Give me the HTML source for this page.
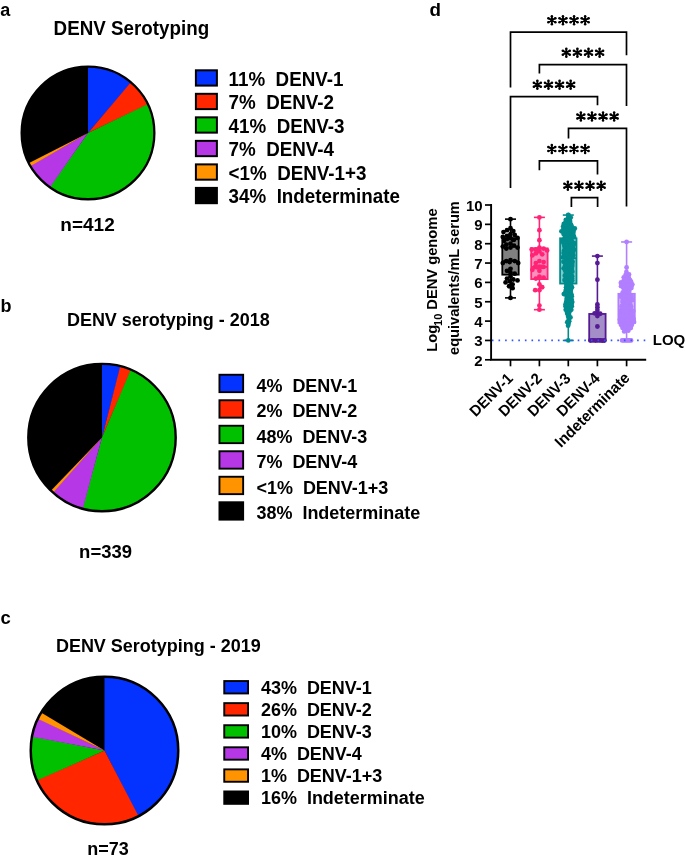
<!DOCTYPE html>
<html><head><meta charset="utf-8"><style>
html,body{margin:0;padding:0;background:#fff;width:685px;height:864px;overflow:hidden}
svg{display:block;will-change:transform}
</style></head><body>
<svg width="685" height="864" viewBox="0 0 685 864" font-family='"Liberation Sans", sans-serif'><rect width="685" height="864" fill="#fff"/><text transform="translate(0.20,16.00) scale(1,1.05)" font-size="18" font-weight="bold" text-anchor="start" fill="#000" xml:space="preserve">a</text><text transform="translate(53.60,34.70) scale(1,1.07)" font-size="18.8" font-weight="bold" text-anchor="start" fill="#000" xml:space="preserve">DENV Serotyping</text><circle cx="88" cy="132.9" r="66.65" fill="#000000"/><path d="M88,132.9 L88.00,66.25 A66.64999999999999,66.64999999999999 0 0 1 131.44,82.36 Z" fill="#0433FF"/><path d="M88,132.9 L131.04,82.01 A66.64999999999999,66.64999999999999 0 0 1 148.31,104.52 Z" fill="#FF2600"/><path d="M88,132.9 L148.08,104.04 A66.64999999999999,66.64999999999999 0 0 1 49.50,187.31 Z" fill="#00C000"/><path d="M88,132.9 L49.94,187.62 A66.64999999999999,66.64999999999999 0 0 1 30.00,165.74 Z" fill="#B537E6"/><path d="M88,132.9 L30.27,166.20 A66.64999999999999,66.64999999999999 0 0 1 28.61,163.16 Z" fill="#FF9300"/><circle cx="88" cy="132.9" r="66.35" fill="none" stroke="#000" stroke-width="2.3"/><rect x="195.90" y="70.30" width="21.00" height="15.30" fill="#0433FF" stroke="#000" stroke-width="2.0"/><text transform="translate(228.60,85.90) scale(1,1.05)" font-size="18.8" font-weight="bold" text-anchor="start" fill="#000" xml:space="preserve">11%  DENV-1</text><rect x="195.90" y="93.82" width="21.00" height="15.30" fill="#FF2600" stroke="#000" stroke-width="2.0"/><text transform="translate(228.60,109.30) scale(1,1.05)" font-size="18.8" font-weight="bold" text-anchor="start" fill="#000" xml:space="preserve">7%  DENV-2</text><rect x="195.90" y="117.34" width="21.00" height="15.30" fill="#00C000" stroke="#000" stroke-width="2.0"/><text transform="translate(228.60,132.70) scale(1,1.05)" font-size="18.8" font-weight="bold" text-anchor="start" fill="#000" xml:space="preserve">41%  DENV-3</text><rect x="195.90" y="140.86" width="21.00" height="15.30" fill="#B537E6" stroke="#000" stroke-width="2.0"/><text transform="translate(228.60,156.10) scale(1,1.05)" font-size="18.8" font-weight="bold" text-anchor="start" fill="#000" xml:space="preserve">7%  DENV-4</text><rect x="195.90" y="164.38" width="21.00" height="15.30" fill="#FF9300" stroke="#000" stroke-width="2.0"/><text transform="translate(228.60,179.50) scale(1,1.05)" font-size="18.8" font-weight="bold" text-anchor="start" fill="#000" xml:space="preserve">&lt;1%  DENV-1+3</text><rect x="195.90" y="187.90" width="21.00" height="15.30" fill="#000000" stroke="#000" stroke-width="2.0"/><text transform="translate(228.60,202.90) scale(1,1.05)" font-size="18.8" font-weight="bold" text-anchor="start" fill="#000" xml:space="preserve">34%  Indeterminate</text><text transform="translate(60.30,231.40)" font-size="19" font-weight="bold" text-anchor="start" fill="#000" xml:space="preserve">n=412</text><text transform="translate(0.40,311.60)" font-size="18" font-weight="bold" text-anchor="start" fill="#000" xml:space="preserve">b</text><text transform="translate(66.90,325.90) scale(1,1.06)" font-size="18" font-weight="bold" text-anchor="start" fill="#000" xml:space="preserve">DENV serotyping - 2018</text><circle cx="102" cy="437.6" r="74.00" fill="#000000"/><path d="M102,437.6 L102.00,363.60 A74.0,74.0 0 0 1 120.85,366.04 Z" fill="#0433FF"/><path d="M102,437.6 L120.28,365.89 A74.0,74.0 0 0 1 131.39,369.69 Z" fill="#FF2600"/><path d="M102,437.6 L130.84,369.45 A74.0,74.0 0 0 1 82.25,508.92 Z" fill="#00C000"/><path d="M102,437.6 L82.82,509.07 A74.0,74.0 0 0 1 52.37,492.49 Z" fill="#B537E6"/><path d="M102,437.6 L52.81,492.88 A74.0,74.0 0 0 1 50.67,490.90 Z" fill="#FF9300"/><circle cx="102" cy="437.6" r="73.70" fill="none" stroke="#000" stroke-width="2.4"/><rect x="219.45" y="374.75" width="23.70" height="17.40" fill="#0433FF" stroke="#000" stroke-width="1.9"/><text transform="translate(256.40,391.70) scale(1,1.05)" font-size="18.0" font-weight="bold" text-anchor="start" fill="#000" xml:space="preserve">4%  DENV-1</text><rect x="219.45" y="400.25" width="23.70" height="17.40" fill="#FF2600" stroke="#000" stroke-width="1.9"/><text transform="translate(256.40,417.22) scale(1,1.05)" font-size="18.0" font-weight="bold" text-anchor="start" fill="#000" xml:space="preserve">2%  DENV-2</text><rect x="219.45" y="425.75" width="23.70" height="17.40" fill="#00C000" stroke="#000" stroke-width="1.9"/><text transform="translate(256.40,442.74) scale(1,1.05)" font-size="18.0" font-weight="bold" text-anchor="start" fill="#000" xml:space="preserve">48%  DENV-3</text><rect x="219.45" y="451.25" width="23.70" height="17.40" fill="#B537E6" stroke="#000" stroke-width="1.9"/><text transform="translate(256.40,468.26) scale(1,1.05)" font-size="18.0" font-weight="bold" text-anchor="start" fill="#000" xml:space="preserve">7%  DENV-4</text><rect x="219.45" y="476.75" width="23.70" height="17.40" fill="#FF9300" stroke="#000" stroke-width="1.9"/><text transform="translate(256.40,493.78) scale(1,1.05)" font-size="18.0" font-weight="bold" text-anchor="start" fill="#000" xml:space="preserve">&lt;1%  DENV-1+3</text><rect x="219.45" y="502.25" width="23.70" height="17.40" fill="#000000" stroke="#000" stroke-width="1.9"/><text transform="translate(256.40,519.30) scale(1,1.05)" font-size="18.0" font-weight="bold" text-anchor="start" fill="#000" xml:space="preserve">38%  Indeterminate</text><text transform="translate(79.10,557.70) scale(1,1.01)" font-size="18.5" font-weight="bold" text-anchor="start" fill="#000" xml:space="preserve">n=339</text><text transform="translate(0.50,624.00) scale(1,1.04)" font-size="18.5" font-weight="bold" text-anchor="start" fill="#000" xml:space="preserve">c</text><text transform="translate(55.90,652.20) scale(1,1.06)" font-size="18" font-weight="bold" text-anchor="start" fill="#000" xml:space="preserve">DENV Serotyping - 2019</text><circle cx="104.5" cy="750.6" r="74.05" fill="#000000"/><path d="M104.5,750.6 L104.50,676.55 A74.05,74.05 0 0 1 138.12,816.58 Z" fill="#0433FF"/><path d="M104.5,750.6 L138.64,816.31 A74.05,74.05 0 0 1 36.54,780.01 Z" fill="#FF2600"/><path d="M104.5,750.6 L36.78,780.55 A74.05,74.05 0 0 1 31.85,736.27 Z" fill="#00C000"/><path d="M104.5,750.6 L31.74,736.85 A74.05,74.05 0 0 1 37.90,718.23 Z" fill="#B537E6"/><path d="M104.5,750.6 L37.64,718.77 A74.05,74.05 0 0 1 41.00,712.51 Z" fill="#FF9300"/><circle cx="104.5" cy="750.6" r="73.75" fill="none" stroke="#000" stroke-width="2.5"/><rect x="224.25" y="681.05" width="23.80" height="12.40" fill="#0433FF" stroke="#000" stroke-width="1.9"/><text transform="translate(260.90,693.50) scale(1,1.05)" font-size="18.0" font-weight="bold" text-anchor="start" fill="#000" xml:space="preserve">43%  DENV-1</text><rect x="224.25" y="703.13" width="23.80" height="12.40" fill="#FF2600" stroke="#000" stroke-width="1.9"/><text transform="translate(260.90,715.56) scale(1,1.05)" font-size="18.0" font-weight="bold" text-anchor="start" fill="#000" xml:space="preserve">26%  DENV-2</text><rect x="224.25" y="725.21" width="23.80" height="12.40" fill="#00C000" stroke="#000" stroke-width="1.9"/><text transform="translate(260.90,737.62) scale(1,1.05)" font-size="18.0" font-weight="bold" text-anchor="start" fill="#000" xml:space="preserve">10%  DENV-3</text><rect x="224.25" y="747.29" width="23.80" height="12.40" fill="#B537E6" stroke="#000" stroke-width="1.9"/><text transform="translate(260.90,759.68) scale(1,1.05)" font-size="18.0" font-weight="bold" text-anchor="start" fill="#000" xml:space="preserve">4%  DENV-4</text><rect x="224.25" y="769.37" width="23.80" height="12.40" fill="#FF9300" stroke="#000" stroke-width="1.9"/><text transform="translate(260.90,781.74) scale(1,1.05)" font-size="18.0" font-weight="bold" text-anchor="start" fill="#000" xml:space="preserve">1%  DENV-1+3</text><rect x="224.25" y="791.45" width="23.80" height="12.40" fill="#000000" stroke="#000" stroke-width="1.9"/><text transform="translate(260.90,803.80) scale(1,1.05)" font-size="18.0" font-weight="bold" text-anchor="start" fill="#000" xml:space="preserve">16%  Indeterminate</text><text transform="translate(87.20,855.00) scale(1,1.02)" font-size="18" font-weight="bold" text-anchor="start" fill="#000" xml:space="preserve">n=73</text><text transform="translate(429.50,15.90) scale(1,0.98)" font-size="18.8" font-weight="bold" text-anchor="start" fill="#000" xml:space="preserve">d</text><path d="M510.5,87.5 V32.1 H626.5 V55.2" fill="none" stroke="#000" stroke-width="1.7"/><path d="M539.4,73.6 V64.6 H626.5 V106.0" fill="none" stroke="#000" stroke-width="1.7"/><path d="M510.5,188.1 V96.7 H597.5 V105.3" fill="none" stroke="#000" stroke-width="1.7"/><path d="M568.5,138.4 V128.4 H626.5 V206.6" fill="none" stroke="#000" stroke-width="1.7"/><path d="M539.4,170.3 V160.9 H597.5 V174.5" fill="none" stroke="#000" stroke-width="1.7"/><path d="M571.4,207.0 V197.6 H597.6 V207.0" fill="none" stroke="#000" stroke-width="1.7"/><path d="M551.85,24.40L551.85,16.00M548.21,22.30L555.49,18.10M548.21,18.10L555.49,22.30M562.95,24.40L562.95,16.00M559.31,22.30L566.59,18.10M559.31,18.10L566.59,22.30M574.05,24.40L574.05,16.00M570.41,22.30L577.69,18.10M570.41,18.10L577.69,22.30M585.15,24.40L585.15,16.00M581.51,22.30L588.79,18.10M581.51,18.10L588.79,22.30M566.30,56.90L566.30,48.50M562.66,54.80L569.94,50.60M562.66,50.60L569.94,54.80M577.40,56.90L577.40,48.50M573.76,54.80L581.04,50.60M573.76,50.60L581.04,54.80M588.50,56.90L588.50,48.50M584.86,54.80L592.14,50.60M584.86,50.60L592.14,54.80M599.60,56.90L599.60,48.50M595.96,54.80L603.24,50.60M595.96,50.60L603.24,54.80M537.35,89.00L537.35,80.60M533.71,86.90L540.99,82.70M533.71,82.70L540.99,86.90M548.45,89.00L548.45,80.60M544.81,86.90L552.09,82.70M544.81,82.70L552.09,86.90M559.55,89.00L559.55,80.60M555.91,86.90L563.19,82.70M555.91,82.70L563.19,86.90M570.65,89.00L570.65,80.60M567.01,86.90L574.29,82.70M567.01,82.70L574.29,86.90M580.85,120.70L580.85,112.30M577.21,118.60L584.49,114.40M577.21,114.40L584.49,118.60M591.95,120.70L591.95,112.30M588.31,118.60L595.59,114.40M588.31,114.40L595.59,118.60M603.05,120.70L603.05,112.30M599.41,118.60L606.69,114.40M599.41,114.40L606.69,118.60M614.15,120.70L614.15,112.30M610.51,118.60L617.79,114.40M610.51,114.40L617.79,118.60M551.80,153.20L551.80,144.80M548.16,151.10L555.44,146.90M548.16,146.90L555.44,151.10M562.90,153.20L562.90,144.80M559.26,151.10L566.54,146.90M559.26,146.90L566.54,151.10M574.00,153.20L574.00,144.80M570.36,151.10L577.64,146.90M570.36,146.90L577.64,151.10M585.10,153.20L585.10,144.80M581.46,151.10L588.74,146.90M581.46,146.90L588.74,151.10M567.85,189.90L567.85,181.50M564.21,187.80L571.49,183.60M564.21,183.60L571.49,187.80M578.95,189.90L578.95,181.50M575.31,187.80L582.59,183.60M575.31,183.60L582.59,187.80M590.05,189.90L590.05,181.50M586.41,187.80L593.69,183.60M586.41,183.60L593.69,187.80M601.15,189.90L601.15,181.50M597.51,187.80L604.79,183.60M597.51,183.60L604.79,187.80" fill="none" stroke="#000" stroke-width="1.9" stroke-linecap="butt"/><g fill="#000"><circle cx="551.85" cy="16.15" r="1.25"/><circle cx="551.85" cy="24.25" r="1.25"/><circle cx="555.36" cy="18.18" r="1.25"/><circle cx="548.34" cy="22.23" r="1.25"/><circle cx="555.36" cy="22.23" r="1.25"/><circle cx="548.34" cy="18.18" r="1.25"/><circle cx="551.85" cy="20.20" r="1.5"/><circle cx="562.95" cy="16.15" r="1.25"/><circle cx="562.95" cy="24.25" r="1.25"/><circle cx="566.46" cy="18.18" r="1.25"/><circle cx="559.44" cy="22.23" r="1.25"/><circle cx="566.46" cy="22.23" r="1.25"/><circle cx="559.44" cy="18.18" r="1.25"/><circle cx="562.95" cy="20.20" r="1.5"/><circle cx="574.05" cy="16.15" r="1.25"/><circle cx="574.05" cy="24.25" r="1.25"/><circle cx="577.56" cy="18.18" r="1.25"/><circle cx="570.54" cy="22.23" r="1.25"/><circle cx="577.56" cy="22.23" r="1.25"/><circle cx="570.54" cy="18.18" r="1.25"/><circle cx="574.05" cy="20.20" r="1.5"/><circle cx="585.15" cy="16.15" r="1.25"/><circle cx="585.15" cy="24.25" r="1.25"/><circle cx="588.66" cy="18.18" r="1.25"/><circle cx="581.64" cy="22.23" r="1.25"/><circle cx="588.66" cy="22.23" r="1.25"/><circle cx="581.64" cy="18.18" r="1.25"/><circle cx="585.15" cy="20.20" r="1.5"/><circle cx="566.30" cy="48.65" r="1.25"/><circle cx="566.30" cy="56.75" r="1.25"/><circle cx="569.81" cy="50.67" r="1.25"/><circle cx="562.79" cy="54.72" r="1.25"/><circle cx="569.81" cy="54.72" r="1.25"/><circle cx="562.79" cy="50.67" r="1.25"/><circle cx="566.30" cy="52.70" r="1.5"/><circle cx="577.40" cy="48.65" r="1.25"/><circle cx="577.40" cy="56.75" r="1.25"/><circle cx="580.91" cy="50.67" r="1.25"/><circle cx="573.89" cy="54.72" r="1.25"/><circle cx="580.91" cy="54.72" r="1.25"/><circle cx="573.89" cy="50.67" r="1.25"/><circle cx="577.40" cy="52.70" r="1.5"/><circle cx="588.50" cy="48.65" r="1.25"/><circle cx="588.50" cy="56.75" r="1.25"/><circle cx="592.01" cy="50.67" r="1.25"/><circle cx="584.99" cy="54.72" r="1.25"/><circle cx="592.01" cy="54.72" r="1.25"/><circle cx="584.99" cy="50.67" r="1.25"/><circle cx="588.50" cy="52.70" r="1.5"/><circle cx="599.60" cy="48.65" r="1.25"/><circle cx="599.60" cy="56.75" r="1.25"/><circle cx="603.11" cy="50.67" r="1.25"/><circle cx="596.09" cy="54.72" r="1.25"/><circle cx="603.11" cy="54.72" r="1.25"/><circle cx="596.09" cy="50.67" r="1.25"/><circle cx="599.60" cy="52.70" r="1.5"/><circle cx="537.35" cy="80.75" r="1.25"/><circle cx="537.35" cy="88.85" r="1.25"/><circle cx="540.86" cy="82.77" r="1.25"/><circle cx="533.84" cy="86.83" r="1.25"/><circle cx="540.86" cy="86.83" r="1.25"/><circle cx="533.84" cy="82.77" r="1.25"/><circle cx="537.35" cy="84.80" r="1.5"/><circle cx="548.45" cy="80.75" r="1.25"/><circle cx="548.45" cy="88.85" r="1.25"/><circle cx="551.96" cy="82.77" r="1.25"/><circle cx="544.94" cy="86.83" r="1.25"/><circle cx="551.96" cy="86.83" r="1.25"/><circle cx="544.94" cy="82.77" r="1.25"/><circle cx="548.45" cy="84.80" r="1.5"/><circle cx="559.55" cy="80.75" r="1.25"/><circle cx="559.55" cy="88.85" r="1.25"/><circle cx="563.06" cy="82.77" r="1.25"/><circle cx="556.04" cy="86.83" r="1.25"/><circle cx="563.06" cy="86.83" r="1.25"/><circle cx="556.04" cy="82.77" r="1.25"/><circle cx="559.55" cy="84.80" r="1.5"/><circle cx="570.65" cy="80.75" r="1.25"/><circle cx="570.65" cy="88.85" r="1.25"/><circle cx="574.16" cy="82.77" r="1.25"/><circle cx="567.14" cy="86.83" r="1.25"/><circle cx="574.16" cy="86.83" r="1.25"/><circle cx="567.14" cy="82.77" r="1.25"/><circle cx="570.65" cy="84.80" r="1.5"/><circle cx="580.85" cy="112.45" r="1.25"/><circle cx="580.85" cy="120.55" r="1.25"/><circle cx="584.36" cy="114.47" r="1.25"/><circle cx="577.34" cy="118.53" r="1.25"/><circle cx="584.36" cy="118.53" r="1.25"/><circle cx="577.34" cy="114.47" r="1.25"/><circle cx="580.85" cy="116.50" r="1.5"/><circle cx="591.95" cy="112.45" r="1.25"/><circle cx="591.95" cy="120.55" r="1.25"/><circle cx="595.46" cy="114.47" r="1.25"/><circle cx="588.44" cy="118.53" r="1.25"/><circle cx="595.46" cy="118.53" r="1.25"/><circle cx="588.44" cy="114.47" r="1.25"/><circle cx="591.95" cy="116.50" r="1.5"/><circle cx="603.05" cy="112.45" r="1.25"/><circle cx="603.05" cy="120.55" r="1.25"/><circle cx="606.56" cy="114.47" r="1.25"/><circle cx="599.54" cy="118.53" r="1.25"/><circle cx="606.56" cy="118.53" r="1.25"/><circle cx="599.54" cy="114.47" r="1.25"/><circle cx="603.05" cy="116.50" r="1.5"/><circle cx="614.15" cy="112.45" r="1.25"/><circle cx="614.15" cy="120.55" r="1.25"/><circle cx="617.66" cy="114.47" r="1.25"/><circle cx="610.64" cy="118.53" r="1.25"/><circle cx="617.66" cy="118.53" r="1.25"/><circle cx="610.64" cy="114.47" r="1.25"/><circle cx="614.15" cy="116.50" r="1.5"/><circle cx="551.80" cy="144.95" r="1.25"/><circle cx="551.80" cy="153.05" r="1.25"/><circle cx="555.31" cy="146.97" r="1.25"/><circle cx="548.29" cy="151.03" r="1.25"/><circle cx="555.31" cy="151.03" r="1.25"/><circle cx="548.29" cy="146.97" r="1.25"/><circle cx="551.80" cy="149.00" r="1.5"/><circle cx="562.90" cy="144.95" r="1.25"/><circle cx="562.90" cy="153.05" r="1.25"/><circle cx="566.41" cy="146.97" r="1.25"/><circle cx="559.39" cy="151.03" r="1.25"/><circle cx="566.41" cy="151.03" r="1.25"/><circle cx="559.39" cy="146.97" r="1.25"/><circle cx="562.90" cy="149.00" r="1.5"/><circle cx="574.00" cy="144.95" r="1.25"/><circle cx="574.00" cy="153.05" r="1.25"/><circle cx="577.51" cy="146.97" r="1.25"/><circle cx="570.49" cy="151.03" r="1.25"/><circle cx="577.51" cy="151.03" r="1.25"/><circle cx="570.49" cy="146.97" r="1.25"/><circle cx="574.00" cy="149.00" r="1.5"/><circle cx="585.10" cy="144.95" r="1.25"/><circle cx="585.10" cy="153.05" r="1.25"/><circle cx="588.61" cy="146.97" r="1.25"/><circle cx="581.59" cy="151.03" r="1.25"/><circle cx="588.61" cy="151.03" r="1.25"/><circle cx="581.59" cy="146.97" r="1.25"/><circle cx="585.10" cy="149.00" r="1.5"/><circle cx="567.85" cy="181.65" r="1.25"/><circle cx="567.85" cy="189.75" r="1.25"/><circle cx="571.36" cy="183.67" r="1.25"/><circle cx="564.34" cy="187.72" r="1.25"/><circle cx="571.36" cy="187.72" r="1.25"/><circle cx="564.34" cy="183.67" r="1.25"/><circle cx="567.85" cy="185.70" r="1.5"/><circle cx="578.95" cy="181.65" r="1.25"/><circle cx="578.95" cy="189.75" r="1.25"/><circle cx="582.46" cy="183.67" r="1.25"/><circle cx="575.44" cy="187.72" r="1.25"/><circle cx="582.46" cy="187.72" r="1.25"/><circle cx="575.44" cy="183.67" r="1.25"/><circle cx="578.95" cy="185.70" r="1.5"/><circle cx="590.05" cy="181.65" r="1.25"/><circle cx="590.05" cy="189.75" r="1.25"/><circle cx="593.56" cy="183.67" r="1.25"/><circle cx="586.54" cy="187.72" r="1.25"/><circle cx="593.56" cy="187.72" r="1.25"/><circle cx="586.54" cy="183.67" r="1.25"/><circle cx="590.05" cy="185.70" r="1.5"/><circle cx="601.15" cy="181.65" r="1.25"/><circle cx="601.15" cy="189.75" r="1.25"/><circle cx="604.66" cy="183.67" r="1.25"/><circle cx="597.64" cy="187.72" r="1.25"/><circle cx="604.66" cy="187.72" r="1.25"/><circle cx="597.64" cy="183.67" r="1.25"/><circle cx="601.15" cy="185.70" r="1.5"/></g><line x1="510.5" y1="219.13" x2="510.5" y2="297.88" stroke="#000000" stroke-width="1.6"/><line x1="505.0" y1="297.88" x2="516.0" y2="297.88" stroke="#000000" stroke-width="1.6"/><line x1="505.0" y1="219.13" x2="516.0" y2="219.13" stroke="#000000" stroke-width="1.6"/><rect x="502.30" y="238.28" width="16.40" height="36.38" fill="#808080" stroke="#000000" stroke-width="1.8"/><line x1="502.30" y1="261.12" x2="518.70" y2="261.12" stroke="#000000" stroke-width="1.8"/><g fill="#000000"><circle cx="510.50" cy="219.13" r="2.4"/><circle cx="510.50" cy="228.22" r="2.4"/><circle cx="507.00" cy="230.16" r="2.4"/><circle cx="513.30" cy="231.12" r="2.4"/><circle cx="503.50" cy="232.09" r="2.4"/><circle cx="510.50" cy="234.03" r="2.4"/><circle cx="514.70" cy="234.99" r="2.4"/><circle cx="507.00" cy="235.96" r="2.4"/><circle cx="502.80" cy="236.93" r="2.4"/><circle cx="510.50" cy="237.89" r="2.4"/><circle cx="517.50" cy="237.89" r="2.4"/><circle cx="507.48" cy="238.86" r="2.4"/><circle cx="514.00" cy="239.83" r="2.4"/><circle cx="512.80" cy="239.83" r="2.4"/><circle cx="504.20" cy="240.80" r="2.4"/><circle cx="510.50" cy="243.70" r="2.4"/><circle cx="506.30" cy="244.67" r="2.4"/><circle cx="514.00" cy="245.63" r="2.4"/><circle cx="502.80" cy="246.60" r="2.4"/><circle cx="510.50" cy="247.57" r="2.4"/><circle cx="517.50" cy="247.57" r="2.4"/><circle cx="506.30" cy="248.54" r="2.4"/><circle cx="510.50" cy="260.15" r="2.4"/><circle cx="514.70" cy="261.12" r="2.4"/><circle cx="506.30" cy="261.12" r="2.4"/><circle cx="509.63" cy="262.08" r="2.4"/><circle cx="518.20" cy="263.05" r="2.4"/><circle cx="502.80" cy="263.05" r="2.4"/><circle cx="510.50" cy="268.86" r="2.4"/><circle cx="507.00" cy="270.79" r="2.4"/><circle cx="510.50" cy="272.73" r="2.4"/><circle cx="514.70" cy="273.69" r="2.4"/><circle cx="510.50" cy="276.60" r="2.4"/><circle cx="507.00" cy="278.53" r="2.4"/><circle cx="513.30" cy="279.50" r="2.4"/><circle cx="517.50" cy="280.47" r="2.4"/><circle cx="509.80" cy="281.43" r="2.4"/><circle cx="505.60" cy="282.40" r="2.4"/><circle cx="512.60" cy="284.33" r="2.4"/><circle cx="509.10" cy="286.27" r="2.4"/><circle cx="512.60" cy="288.20" r="2.4"/><circle cx="510.50" cy="297.88" r="2.4"/></g><line x1="539.4" y1="217.38" x2="539.4" y2="309.68" stroke="#FF2475" stroke-width="1.6"/><line x1="533.9" y1="309.68" x2="544.9" y2="309.68" stroke="#FF2475" stroke-width="1.6"/><line x1="533.9" y1="217.38" x2="544.9" y2="217.38" stroke="#FF2475" stroke-width="1.6"/><rect x="531.20" y="248.34" width="16.40" height="30.77" fill="#FF8FBC" stroke="#FF2475" stroke-width="1.8"/><line x1="531.20" y1="266.92" x2="547.60" y2="266.92" stroke="#FF2475" stroke-width="1.8"/><g fill="#FF2475"><circle cx="539.40" cy="217.38" r="2.4"/><circle cx="539.40" cy="230.16" r="2.4"/><circle cx="539.40" cy="240.22" r="2.4"/><circle cx="539.40" cy="247.57" r="2.4"/><circle cx="543.60" cy="248.54" r="2.4"/><circle cx="535.90" cy="249.50" r="2.4"/><circle cx="531.70" cy="249.50" r="2.4"/><circle cx="547.10" cy="250.47" r="2.4"/><circle cx="539.40" cy="251.44" r="2.4"/><circle cx="535.90" cy="253.38" r="2.4"/><circle cx="542.20" cy="254.34" r="2.4"/><circle cx="532.40" cy="255.31" r="2.4"/><circle cx="539.40" cy="261.12" r="2.4"/><circle cx="543.60" cy="262.08" r="2.4"/><circle cx="535.90" cy="263.05" r="2.4"/><circle cx="539.40" cy="266.53" r="2.4"/><circle cx="535.20" cy="266.92" r="2.4"/><circle cx="543.60" cy="266.92" r="2.4"/><circle cx="541.82" cy="266.92" r="2.4"/><circle cx="536.98" cy="267.31" r="2.4"/><circle cx="532.40" cy="269.82" r="2.4"/><circle cx="539.40" cy="270.79" r="2.4"/><circle cx="539.40" cy="276.60" r="2.4"/><circle cx="543.60" cy="277.56" r="2.4"/><circle cx="535.90" cy="278.53" r="2.4"/><circle cx="539.40" cy="284.33" r="2.4"/><circle cx="542.20" cy="287.24" r="2.4"/><circle cx="539.40" cy="290.14" r="2.4"/><circle cx="535.20" cy="290.14" r="2.4"/><circle cx="539.40" cy="305.62" r="2.4"/><circle cx="539.40" cy="309.68" r="2.4"/></g><line x1="568.3" y1="215.06" x2="568.3" y2="340.45" stroke="#008C8C" stroke-width="1.6"/><line x1="562.8" y1="340.45" x2="573.8" y2="340.45" stroke="#008C8C" stroke-width="1.6"/><line x1="562.8" y1="215.06" x2="573.8" y2="215.06" stroke="#008C8C" stroke-width="1.6"/><rect x="560.10" y="238.28" width="16.40" height="45.28" fill="#7FCACA" stroke="#008C8C" stroke-width="1.8"/><line x1="560.10" y1="258.21" x2="576.50" y2="258.21" stroke="#008C8C" stroke-width="1.8"/><g fill="#008C8C"><circle cx="568.34" cy="215.00" r="2.4"/><circle cx="568.32" cy="217.38" r="2.4"/><circle cx="570.74" cy="217.58" r="2.4"/><circle cx="565.85" cy="219.79" r="2.4"/><circle cx="569.84" cy="220.40" r="2.4"/><circle cx="565.43" cy="222.45" r="2.4"/><circle cx="568.37" cy="222.04" r="2.4"/><circle cx="570.04" cy="221.70" r="2.4"/><circle cx="563.82" cy="224.01" r="2.4"/><circle cx="565.69" cy="224.26" r="2.4"/><circle cx="568.86" cy="224.37" r="2.4"/><circle cx="571.03" cy="224.73" r="2.4"/><circle cx="563.21" cy="226.31" r="2.4"/><circle cx="565.75" cy="226.64" r="2.4"/><circle cx="568.95" cy="226.46" r="2.4"/><circle cx="571.84" cy="226.64" r="2.4"/><circle cx="563.50" cy="228.71" r="2.4"/><circle cx="566.49" cy="228.81" r="2.4"/><circle cx="569.24" cy="228.36" r="2.4"/><circle cx="571.84" cy="229.05" r="2.4"/><circle cx="574.78" cy="228.46" r="2.4"/><circle cx="561.43" cy="231.37" r="2.4"/><circle cx="563.04" cy="230.59" r="2.4"/><circle cx="566.40" cy="230.61" r="2.4"/><circle cx="568.29" cy="231.30" r="2.4"/><circle cx="571.33" cy="231.25" r="2.4"/><circle cx="573.62" cy="230.78" r="2.4"/><circle cx="563.58" cy="233.97" r="2.4"/><circle cx="566.50" cy="233.02" r="2.4"/><circle cx="568.53" cy="233.79" r="2.4"/><circle cx="571.10" cy="233.70" r="2.4"/><circle cx="573.30" cy="232.96" r="2.4"/><circle cx="564.85" cy="235.58" r="2.4"/><circle cx="567.13" cy="235.12" r="2.4"/><circle cx="569.92" cy="235.91" r="2.4"/><circle cx="573.59" cy="236.01" r="2.4"/><circle cx="564.73" cy="237.83" r="2.4"/><circle cx="567.63" cy="237.47" r="2.4"/><circle cx="570.92" cy="237.43" r="2.4"/><circle cx="574.08" cy="236.93" r="2.4"/><circle cx="562.72" cy="240.39" r="2.4"/><circle cx="565.81" cy="239.74" r="2.4"/><circle cx="568.68" cy="240.12" r="2.4"/><circle cx="571.65" cy="240.58" r="2.4"/><circle cx="563.26" cy="242.68" r="2.4"/><circle cx="565.92" cy="242.80" r="2.4"/><circle cx="569.07" cy="243.16" r="2.4"/><circle cx="570.89" cy="243.29" r="2.4"/><circle cx="574.16" cy="243.13" r="2.4"/><circle cx="564.28" cy="245.73" r="2.4"/><circle cx="567.52" cy="245.81" r="2.4"/><circle cx="570.46" cy="245.76" r="2.4"/><circle cx="573.44" cy="245.31" r="2.4"/><circle cx="564.94" cy="248.02" r="2.4"/><circle cx="567.08" cy="248.40" r="2.4"/><circle cx="570.23" cy="247.67" r="2.4"/><circle cx="572.85" cy="247.95" r="2.4"/><circle cx="564.04" cy="250.54" r="2.4"/><circle cx="566.76" cy="250.87" r="2.4"/><circle cx="568.46" cy="250.44" r="2.4"/><circle cx="571.90" cy="250.01" r="2.4"/><circle cx="574.08" cy="249.76" r="2.4"/><circle cx="563.60" cy="252.89" r="2.4"/><circle cx="566.67" cy="252.42" r="2.4"/><circle cx="569.88" cy="252.49" r="2.4"/><circle cx="572.63" cy="252.57" r="2.4"/><circle cx="564.93" cy="254.56" r="2.4"/><circle cx="568.01" cy="254.69" r="2.4"/><circle cx="570.33" cy="254.71" r="2.4"/><circle cx="573.23" cy="255.24" r="2.4"/><circle cx="563.10" cy="257.20" r="2.4"/><circle cx="565.98" cy="256.82" r="2.4"/><circle cx="569.39" cy="257.15" r="2.4"/><circle cx="572.01" cy="257.34" r="2.4"/><circle cx="565.72" cy="258.87" r="2.4"/><circle cx="568.88" cy="259.15" r="2.4"/><circle cx="571.37" cy="259.58" r="2.4"/><circle cx="563.42" cy="261.74" r="2.4"/><circle cx="566.72" cy="261.22" r="2.4"/><circle cx="570.25" cy="260.94" r="2.4"/><circle cx="572.59" cy="261.78" r="2.4"/><circle cx="565.56" cy="263.99" r="2.4"/><circle cx="567.21" cy="264.01" r="2.4"/><circle cx="570.10" cy="263.51" r="2.4"/><circle cx="572.11" cy="263.90" r="2.4"/><circle cx="565.18" cy="265.62" r="2.4"/><circle cx="568.67" cy="265.81" r="2.4"/><circle cx="572.24" cy="265.94" r="2.4"/><circle cx="563.70" cy="268.32" r="2.4"/><circle cx="567.17" cy="269.12" r="2.4"/><circle cx="569.53" cy="268.61" r="2.4"/><circle cx="571.79" cy="269.00" r="2.4"/><circle cx="565.18" cy="270.87" r="2.4"/><circle cx="568.05" cy="271.82" r="2.4"/><circle cx="572.32" cy="271.70" r="2.4"/><circle cx="566.06" cy="273.35" r="2.4"/><circle cx="568.08" cy="273.25" r="2.4"/><circle cx="570.44" cy="272.71" r="2.4"/><circle cx="564.83" cy="275.75" r="2.4"/><circle cx="568.05" cy="275.58" r="2.4"/><circle cx="572.11" cy="276.18" r="2.4"/><circle cx="566.16" cy="278.09" r="2.4"/><circle cx="568.78" cy="277.67" r="2.4"/><circle cx="571.95" cy="278.14" r="2.4"/><circle cx="564.52" cy="280.10" r="2.4"/><circle cx="567.67" cy="280.54" r="2.4"/><circle cx="569.94" cy="279.88" r="2.4"/><circle cx="572.19" cy="280.49" r="2.4"/><circle cx="566.08" cy="282.26" r="2.4"/><circle cx="568.64" cy="282.36" r="2.4"/><circle cx="571.15" cy="281.69" r="2.4"/><circle cx="566.37" cy="284.82" r="2.4"/><circle cx="568.31" cy="284.16" r="2.4"/><circle cx="570.86" cy="284.86" r="2.4"/><circle cx="566.10" cy="287.36" r="2.4"/><circle cx="569.54" cy="287.36" r="2.4"/><circle cx="571.93" cy="287.22" r="2.4"/><circle cx="566.06" cy="289.55" r="2.4"/><circle cx="568.10" cy="288.91" r="2.4"/><circle cx="571.10" cy="288.91" r="2.4"/><circle cx="565.51" cy="291.73" r="2.4"/><circle cx="568.12" cy="291.78" r="2.4"/><circle cx="570.77" cy="290.98" r="2.4"/><circle cx="563.81" cy="294.04" r="2.4"/><circle cx="567.63" cy="294.10" r="2.4"/><circle cx="571.33" cy="294.20" r="2.4"/><circle cx="566.83" cy="296.21" r="2.4"/><circle cx="568.38" cy="297.00" r="2.4"/><circle cx="571.76" cy="296.21" r="2.4"/><circle cx="566.60" cy="298.94" r="2.4"/><circle cx="568.69" cy="299.56" r="2.4"/><circle cx="571.65" cy="299.56" r="2.4"/><circle cx="566.32" cy="301.53" r="2.4"/><circle cx="569.10" cy="301.81" r="2.4"/><circle cx="572.25" cy="302.04" r="2.4"/><circle cx="565.56" cy="304.22" r="2.4"/><circle cx="568.51" cy="304.32" r="2.4"/><circle cx="571.63" cy="304.02" r="2.4"/><circle cx="565.52" cy="306.18" r="2.4"/><circle cx="567.99" cy="306.57" r="2.4"/><circle cx="571.79" cy="306.13" r="2.4"/><circle cx="566.76" cy="308.92" r="2.4"/><circle cx="569.59" cy="308.13" r="2.4"/><circle cx="565.73" cy="309.86" r="2.4"/><circle cx="568.40" cy="310.49" r="2.4"/><circle cx="571.29" cy="309.83" r="2.4"/><circle cx="567.08" cy="312.67" r="2.4"/><circle cx="569.39" cy="312.08" r="2.4"/><circle cx="567.70" cy="314.28" r="2.4"/><circle cx="569.00" cy="314.89" r="2.4"/><circle cx="568.20" cy="316.70" r="2.4"/><circle cx="570.46" cy="317.44" r="2.4"/><circle cx="568.71" cy="319.64" r="2.4"/><circle cx="567.29" cy="322.15" r="2.4"/><circle cx="569.20" cy="321.25" r="2.4"/><circle cx="568.53" cy="323.75" r="2.4"/><circle cx="568.09" cy="325.71" r="2.4"/><circle cx="568.30" cy="215.06" r="2.4"/><circle cx="568.30" cy="340.45" r="2.4"/></g><line x1="597.4" y1="256.08" x2="597.4" y2="340.45" stroke="#561A94" stroke-width="1.6"/><line x1="591.9" y1="340.45" x2="602.9" y2="340.45" stroke="#561A94" stroke-width="1.6"/><line x1="591.9" y1="256.08" x2="602.9" y2="256.08" stroke="#561A94" stroke-width="1.6"/><rect x="589.20" y="313.94" width="16.40" height="26.51" fill="#A48EC8" stroke="#561A94" stroke-width="1.8"/><g fill="#561A94"><circle cx="597.40" cy="256.08" r="2.4"/><circle cx="597.40" cy="263.05" r="2.4"/><circle cx="597.40" cy="279.69" r="2.4"/><circle cx="597.40" cy="304.46" r="2.4"/><circle cx="597.40" cy="307.17" r="2.4"/><circle cx="597.40" cy="310.07" r="2.4"/><circle cx="597.40" cy="312.97" r="2.4"/><circle cx="594.60" cy="313.36" r="2.4"/><circle cx="600.20" cy="313.75" r="2.4"/><circle cx="597.40" cy="316.07" r="2.4"/><circle cx="597.40" cy="326.52" r="2.4"/><circle cx="590.40" cy="340.58" r="2.4"/><circle cx="592.15" cy="340.28" r="2.4"/><circle cx="593.90" cy="340.36" r="2.4"/><circle cx="595.65" cy="340.54" r="2.4"/><circle cx="597.40" cy="340.29" r="2.4"/><circle cx="599.15" cy="340.44" r="2.4"/><circle cx="600.90" cy="340.44" r="2.4"/><circle cx="602.65" cy="340.63" r="2.4"/><circle cx="604.40" cy="340.48" r="2.4"/></g><line x1="626.6" y1="241.96" x2="626.6" y2="340.45" stroke="#B17FFF" stroke-width="1.6"/><line x1="621.1" y1="340.45" x2="632.1" y2="340.45" stroke="#B17FFF" stroke-width="1.6"/><line x1="621.1" y1="241.96" x2="632.1" y2="241.96" stroke="#B17FFF" stroke-width="1.6"/><rect x="618.40" y="293.82" width="16.40" height="29.22" fill="#D5BBFF" stroke="#B17FFF" stroke-width="1.8"/><g fill="#B17FFF"><circle cx="626.42" cy="271.90" r="2.4"/><circle cx="625.63" cy="274.85" r="2.4"/><circle cx="629.01" cy="274.39" r="2.4"/><circle cx="623.77" cy="277.29" r="2.4"/><circle cx="626.56" cy="277.78" r="2.4"/><circle cx="628.75" cy="277.74" r="2.4"/><circle cx="623.89" cy="279.94" r="2.4"/><circle cx="626.87" cy="278.96" r="2.4"/><circle cx="629.89" cy="279.79" r="2.4"/><circle cx="621.10" cy="282.28" r="2.4"/><circle cx="625.24" cy="281.34" r="2.4"/><circle cx="628.21" cy="281.44" r="2.4"/><circle cx="631.11" cy="281.74" r="2.4"/><circle cx="621.06" cy="283.60" r="2.4"/><circle cx="623.40" cy="284.17" r="2.4"/><circle cx="626.46" cy="284.43" r="2.4"/><circle cx="629.65" cy="284.16" r="2.4"/><circle cx="632.27" cy="284.29" r="2.4"/><circle cx="621.09" cy="286.15" r="2.4"/><circle cx="623.33" cy="285.79" r="2.4"/><circle cx="626.95" cy="286.01" r="2.4"/><circle cx="628.88" cy="285.58" r="2.4"/><circle cx="631.80" cy="285.45" r="2.4"/><circle cx="623.58" cy="288.23" r="2.4"/><circle cx="626.48" cy="288.53" r="2.4"/><circle cx="629.32" cy="288.08" r="2.4"/><circle cx="631.37" cy="288.11" r="2.4"/><circle cx="624.72" cy="290.50" r="2.4"/><circle cx="627.15" cy="290.28" r="2.4"/><circle cx="629.20" cy="289.95" r="2.4"/><circle cx="622.69" cy="292.41" r="2.4"/><circle cx="626.29" cy="292.79" r="2.4"/><circle cx="629.19" cy="291.99" r="2.4"/><circle cx="621.26" cy="295.05" r="2.4"/><circle cx="624.16" cy="295.31" r="2.4"/><circle cx="628.34" cy="295.07" r="2.4"/><circle cx="631.17" cy="295.46" r="2.4"/><circle cx="620.97" cy="296.66" r="2.4"/><circle cx="624.28" cy="297.25" r="2.4"/><circle cx="628.08" cy="296.96" r="2.4"/><circle cx="631.62" cy="297.00" r="2.4"/><circle cx="622.87" cy="300.01" r="2.4"/><circle cx="626.23" cy="299.60" r="2.4"/><circle cx="629.13" cy="299.24" r="2.4"/><circle cx="632.43" cy="300.12" r="2.4"/><circle cx="622.55" cy="301.98" r="2.4"/><circle cx="625.21" cy="301.92" r="2.4"/><circle cx="627.40" cy="302.63" r="2.4"/><circle cx="629.52" cy="302.29" r="2.4"/><circle cx="624.11" cy="304.75" r="2.4"/><circle cx="626.97" cy="303.99" r="2.4"/><circle cx="630.24" cy="304.51" r="2.4"/><circle cx="621.60" cy="306.15" r="2.4"/><circle cx="625.26" cy="306.08" r="2.4"/><circle cx="628.28" cy="306.59" r="2.4"/><circle cx="631.14" cy="306.53" r="2.4"/><circle cx="622.01" cy="308.13" r="2.4"/><circle cx="625.03" cy="308.26" r="2.4"/><circle cx="628.36" cy="308.80" r="2.4"/><circle cx="630.75" cy="308.58" r="2.4"/><circle cx="620.41" cy="311.19" r="2.4"/><circle cx="623.33" cy="311.61" r="2.4"/><circle cx="625.79" cy="311.09" r="2.4"/><circle cx="627.92" cy="311.28" r="2.4"/><circle cx="631.12" cy="311.23" r="2.4"/><circle cx="633.29" cy="311.12" r="2.4"/><circle cx="620.80" cy="314.47" r="2.4"/><circle cx="623.68" cy="314.11" r="2.4"/><circle cx="626.58" cy="313.76" r="2.4"/><circle cx="629.27" cy="313.48" r="2.4"/><circle cx="631.58" cy="313.93" r="2.4"/><circle cx="620.58" cy="316.43" r="2.4"/><circle cx="622.95" cy="316.16" r="2.4"/><circle cx="626.06" cy="316.08" r="2.4"/><circle cx="628.59" cy="316.89" r="2.4"/><circle cx="632.58" cy="316.59" r="2.4"/><circle cx="619.95" cy="319.44" r="2.4"/><circle cx="623.08" cy="319.63" r="2.4"/><circle cx="625.22" cy="319.50" r="2.4"/><circle cx="627.96" cy="319.19" r="2.4"/><circle cx="631.66" cy="318.55" r="2.4"/><circle cx="633.53" cy="318.90" r="2.4"/><circle cx="621.53" cy="321.25" r="2.4"/><circle cx="624.20" cy="321.48" r="2.4"/><circle cx="627.05" cy="320.81" r="2.4"/><circle cx="631.30" cy="321.15" r="2.4"/><circle cx="634.05" cy="321.90" r="2.4"/><circle cx="620.93" cy="324.74" r="2.4"/><circle cx="624.20" cy="323.87" r="2.4"/><circle cx="626.69" cy="324.06" r="2.4"/><circle cx="628.80" cy="323.84" r="2.4"/><circle cx="631.85" cy="324.83" r="2.4"/><circle cx="622.21" cy="325.81" r="2.4"/><circle cx="624.16" cy="326.62" r="2.4"/><circle cx="627.28" cy="326.83" r="2.4"/><circle cx="630.83" cy="326.61" r="2.4"/><circle cx="622.56" cy="327.89" r="2.4"/><circle cx="625.14" cy="328.17" r="2.4"/><circle cx="628.56" cy="328.03" r="2.4"/><circle cx="630.77" cy="328.08" r="2.4"/><circle cx="624.19" cy="331.42" r="2.4"/><circle cx="628.30" cy="330.63" r="2.4"/><circle cx="626.60" cy="267.50" r="2.4"/><circle cx="626.60" cy="241.96" r="2.4"/><circle cx="622.10" cy="340.45" r="2.4"/><circle cx="623.60" cy="340.45" r="2.4"/><circle cx="625.10" cy="340.45" r="2.4"/><circle cx="626.60" cy="340.45" r="2.4"/><circle cx="628.10" cy="340.45" r="2.4"/><circle cx="629.60" cy="340.45" r="2.4"/><circle cx="631.10" cy="340.45" r="2.4"/></g><path d="M491.1,204.10 V359.80 H646.2" fill="none" stroke="#000" stroke-width="1.9"/><line x1="485" y1="359.80" x2="491.1" y2="359.80" stroke="#000" stroke-width="1.7"/><text transform="translate(482.70,365.60)" font-size="15" font-weight="bold" text-anchor="end" fill="#000" xml:space="preserve">2</text><line x1="485" y1="340.45" x2="491.1" y2="340.45" stroke="#000" stroke-width="1.7"/><text transform="translate(482.70,346.25)" font-size="15" font-weight="bold" text-anchor="end" fill="#000" xml:space="preserve">3</text><line x1="485" y1="321.10" x2="491.1" y2="321.10" stroke="#000" stroke-width="1.7"/><text transform="translate(482.70,326.90)" font-size="15" font-weight="bold" text-anchor="end" fill="#000" xml:space="preserve">4</text><line x1="485" y1="301.75" x2="491.1" y2="301.75" stroke="#000" stroke-width="1.7"/><text transform="translate(482.70,307.55)" font-size="15" font-weight="bold" text-anchor="end" fill="#000" xml:space="preserve">5</text><line x1="485" y1="282.40" x2="491.1" y2="282.40" stroke="#000" stroke-width="1.7"/><text transform="translate(482.70,288.20)" font-size="15" font-weight="bold" text-anchor="end" fill="#000" xml:space="preserve">6</text><line x1="485" y1="263.05" x2="491.1" y2="263.05" stroke="#000" stroke-width="1.7"/><text transform="translate(482.70,268.85)" font-size="15" font-weight="bold" text-anchor="end" fill="#000" xml:space="preserve">7</text><line x1="485" y1="243.70" x2="491.1" y2="243.70" stroke="#000" stroke-width="1.7"/><text transform="translate(482.70,249.50)" font-size="15" font-weight="bold" text-anchor="end" fill="#000" xml:space="preserve">8</text><line x1="485" y1="224.35" x2="491.1" y2="224.35" stroke="#000" stroke-width="1.7"/><text transform="translate(482.70,230.15)" font-size="15" font-weight="bold" text-anchor="end" fill="#000" xml:space="preserve">9</text><line x1="485" y1="205.00" x2="491.1" y2="205.00" stroke="#000" stroke-width="1.7"/><text transform="translate(482.70,210.80)" font-size="15" font-weight="bold" text-anchor="end" fill="#000" xml:space="preserve">10</text><line x1="510.5" y1="359.80" x2="510.5" y2="366.3" stroke="#000" stroke-width="1.7"/><line x1="539.4" y1="359.80" x2="539.4" y2="366.3" stroke="#000" stroke-width="1.7"/><line x1="568.3" y1="359.80" x2="568.3" y2="366.3" stroke="#000" stroke-width="1.7"/><line x1="597.4" y1="359.80" x2="597.4" y2="366.3" stroke="#000" stroke-width="1.7"/><line x1="626.6" y1="359.80" x2="626.6" y2="366.3" stroke="#000" stroke-width="1.7"/><text transform="translate(513.90,379.40) rotate(-45) scale(1,1.03)" font-size="14.9" font-weight="bold" text-anchor="end" fill="#000" xml:space="preserve">DENV-1</text><text transform="translate(542.80,379.40) rotate(-45) scale(1,1.03)" font-size="14.9" font-weight="bold" text-anchor="end" fill="#000" xml:space="preserve">DENV-2</text><text transform="translate(571.70,379.40) rotate(-45) scale(1,1.03)" font-size="14.9" font-weight="bold" text-anchor="end" fill="#000" xml:space="preserve">DENV-3</text><text transform="translate(600.80,379.40) rotate(-45) scale(1,1.03)" font-size="14.9" font-weight="bold" text-anchor="end" fill="#000" xml:space="preserve">DENV-4</text><text transform="translate(630.60,378.80) rotate(-45) scale(1,1.03)" font-size="15.0" font-weight="bold" text-anchor="end" fill="#000" xml:space="preserve">Indeterminate</text><text transform="translate(437.3,351.7) rotate(-90) scale(1,1.05)" font-size="14.7" font-weight="bold">Log<tspan font-size="11" dy="4.4" dx="-1.2">10</tspan><tspan dy="-4.4"> DENV genome</tspan></text><text transform="translate(458.90,354.90) rotate(-90) scale(1,1.05)" font-size="14.6" font-weight="bold" text-anchor="start" fill="#000" xml:space="preserve">equivalents/mL serum</text><line x1="491.90000000000003" y1="340.45" x2="648" y2="340.45" stroke="#2F55FF" stroke-width="1.8" stroke-dasharray="1.6 5.0"/><text transform="translate(652.75,345.40) scale(1,1.03)" font-size="15" font-weight="bold" text-anchor="start" fill="#000" xml:space="preserve">LOQ</text></svg>
</body></html>
